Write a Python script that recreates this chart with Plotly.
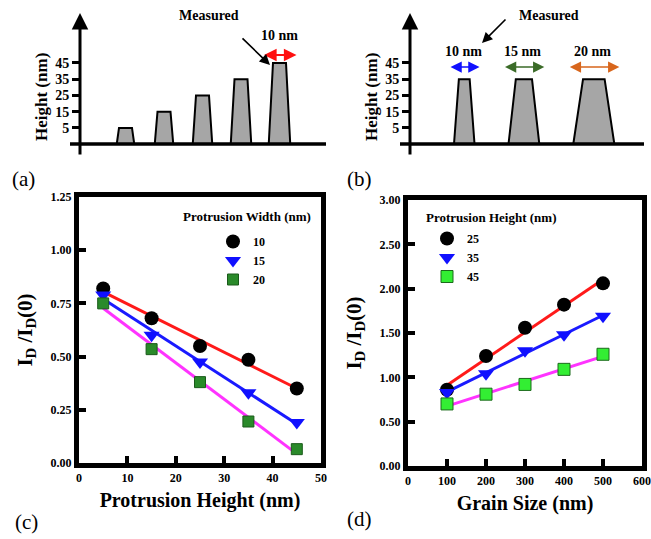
import numpy as np
import plotly.graph_objects as go

W, H = 651, 539
SERIF = "Liberation Serif, Times New Roman, serif"

# ---------------- data ----------------
# (a) schematic: protrusion heights, fixed width
heights_a = [5, 15, 25, 35, 45]
width_a_nm = 10
# (b) schematic: protrusion widths, fixed height
widths_b = [10, 15, 20]
height_b = 35
height_ticks = [5, 15, 25, 35, 45]

# (c) I_D/I_D(0) vs protrusion height
prot_height = [5, 15, 25, 35, 45]
c_names = ["10", "15", "20"]
c_w10 = [0.82, 0.68, 0.55, 0.485, 0.35]
c_w15 = [0.79, 0.60, 0.475, 0.33, 0.19]
c_w20 = [0.75, 0.535, 0.38, 0.195, 0.065]

# (d) I_D/I_D(0) vs grain size
grain_size = [100, 200, 300, 400, 500]
d_names = ["25", "35", "45"]
d_h25 = [0.86, 1.24, 1.56, 1.82, 2.06]
d_h35 = [0.83, 1.04, 1.30, 1.48, 1.69]
d_h45 = [0.70, 0.81, 0.92, 1.09, 1.26]

# ---------------- helpers ----------------
def px(p):
    return p / W

def py(p):
    return 1 - p / H

# schematic vertical scale: data value v at pixel row 136 - 1.625*v
def sy(p):
    return (136 - p) / 1.625

BASE = sy(144)

def trap(cx, top_w, bot_w, h):
    xs = [cx - bot_w / 2, cx - top_w / 2, cx + top_w / 2, cx + bot_w / 2, cx - bot_w / 2]
    ys = [BASE, h, h, BASE, BASE]
    return xs, ys

def text_ann(x, y, text, size, xref="paper", yref="paper", angle=0):
    return dict(x=x, y=y, xref=xref, yref=yref, text=text, showarrow=False,
                xanchor="center", yanchor="middle", textangle=angle,
                font=dict(family=SERIF, size=size, color="black"))

fig = go.Figure()
annotations = []

# ---------------- panel (a) ----------------
pa = 1.3  # px per nm
for i, h in enumerate(heights_a):
    cx = 125.5 + 38.5 * i
    top = width_a_nm * pa
    bot = top + 4 + 0.1 * h
    xs, ys = trap(cx, top, bot, h)
    fig.add_trace(go.Scatter(x=xs, y=ys, xaxis="x3", yaxis="y3", mode="lines",
                             fill="toself", fillcolor="#a6a6a6",
                             line=dict(color="black", width=2), showlegend=False,
                             hoverinfo="skip"))
fig.add_trace(go.Scatter(x=[70, 326], y=[BASE, BASE], xaxis="x3", yaxis="y3", mode="lines",
                         line=dict(color="black", width=3.5), showlegend=False, hoverinfo="skip"))
# y arrow
annotations.append(dict(x=80, y=sy(13), ax=80, ay=sy(156), xref="x3", yref="y3", axref="x3",
                        ayref="y3", text="", showarrow=True, arrowhead=2, arrowsize=1.1,
                        arrowwidth=3, arrowcolor="black"))
# red width arrow
cx5 = 125.5 + 38.5 * (len(heights_a) - 1)
annotations.append(dict(x=cx5 + 17, y=sy(55), ax=cx5 - 17, ay=sy(55), xref="x3", yref="y3",
                        axref="x3", ayref="y3", text="", showarrow=True, arrowhead=2,
                        startarrowhead=2, arrowside="end+start", arrowsize=1.4,
                        startarrowsize=1.4, arrowwidth=1.8, arrowcolor="#ff1010"))
annotations.append(text_ann(cx5, sy(36), "<b>%d nm</b>" % width_a_nm, 14, "x3", "y3"))
annotations.append(dict(x=270, y=sy(65), ax=241, ay=sy(37), xref="x3", yref="y3", axref="x3",
                        ayref="y3", text="", showarrow=True, arrowhead=2, arrowsize=1.3,
                        arrowwidth=1.6, arrowcolor="black"))
annotations.append(text_ann(px(209), py(16), "<b>Measured</b>", 14))
annotations.append(text_ann(px(41), py(97), "<b>Height (nm)</b>", 17, angle=-90))

# ---------------- panel (b) ----------------
pb = 1.08
arrow_cols = ["#1010ff", "#3b6b28", "#d8661c"]
xcur = 454
for i, w in enumerate(widths_b):
    top = w * pb
    bot = top * 1.9
    cx = xcur + bot / 2
    xcur += bot + 34
    xs, ys = trap(cx, top, bot, height_b)
    fig.add_trace(go.Scatter(x=xs, y=ys, xaxis="x4", yaxis="y4", mode="lines",
                             fill="toself", fillcolor="#a6a6a6",
                             line=dict(color="black", width=2), showlegend=False,
                             hoverinfo="skip"))
    L = bot + 10
    annotations.append(dict(x=cx + L / 2, y=sy(67), ax=cx - L / 2, ay=sy(67), xref="x4",
                            yref="y4", axref="x4", ayref="y4", text="", showarrow=True,
                            arrowhead=2, startarrowhead=2, arrowside="end+start",
                            arrowsize=1.5, startarrowsize=1.5, arrowwidth=1.5,
                            arrowcolor=arrow_cols[i]))
    annotations.append(text_ann(cx - 1, sy(52), "<b>%d nm</b>" % w, 14, "x4", "y4"))
fig.add_trace(go.Scatter(x=[400, 644], y=[BASE, BASE], xaxis="x4", yaxis="y4", mode="lines",
                         line=dict(color="black", width=3.5), showlegend=False, hoverinfo="skip"))
annotations.append(dict(x=410, y=sy(13), ax=410, ay=sy(156), xref="x4", yref="y4", axref="x4",
                        ayref="y4", text="", showarrow=True, arrowhead=2, arrowsize=1.1,
                        arrowwidth=3, arrowcolor="black"))
annotations.append(dict(x=482, y=sy(43), ax=507, ay=sy(18), xref="x4", yref="y4", axref="x4",
                        ayref="y4", text="", showarrow=True, arrowhead=2, arrowsize=1.3,
                        arrowwidth=1.6, arrowcolor="black"))
annotations.append(text_ann(px(549), py(16), "<b>Measured</b>", 14))
annotations.append(text_ann(px(371), py(97), "<b>Height (nm)</b>", 17, angle=-90))

# ---------------- panel (c) ----------------
line_cols = ["#ff1a1a", "#1a1aff", "#ff33ff"]
c_markers = [dict(symbol="circle", size=14, color="black"),
             dict(symbol="triangle-down", size=14, color="#1010ff"),
             dict(symbol="square", size=11, color="#2a8a2a", line=dict(color="#1a5a1a", width=1))]
for ys_, name, mk, lc in zip([c_w10, c_w15, c_w20], c_names, c_markers, line_cols):
    k, b = np.polyfit(prot_height, ys_, 1)
    xf = np.array([prot_height[0], prot_height[-1]])
    fig.add_trace(go.Scatter(x=xf, y=k * xf + b, mode="lines", line=dict(color=lc, width=3),
                             showlegend=False, xaxis="x", yaxis="y", hoverinfo="skip"))
for ys_, name, mk in zip([c_w10, c_w15, c_w20], c_names, c_markers):
    fig.add_trace(go.Scatter(x=prot_height, y=ys_, mode="markers", marker=mk, name=name,
                             xaxis="x", yaxis="y", legend="legend"))

# ---------------- panel (d) ----------------
d_markers = [dict(symbol="circle", size=14, color="black"),
             dict(symbol="triangle-down", size=14, color="#1010ff"),
             dict(symbol="square", size=12, color="#33ee33", line=dict(color="#1a6a1a", width=1))]
for ys_, name, mk, lc in zip([d_h25, d_h35, d_h45], d_names, d_markers, line_cols):
    k, b = np.polyfit(grain_size, ys_, 1)
    xf = np.array([grain_size[0], grain_size[-1]])
    fig.add_trace(go.Scatter(x=xf, y=k * xf + b, mode="lines", line=dict(color=lc, width=3),
                             showlegend=False, xaxis="x2", yaxis="y2", hoverinfo="skip"))
for ys_, name, mk in zip([d_h25, d_h35, d_h45], d_names, d_markers):
    fig.add_trace(go.Scatter(x=grain_size, y=ys_, mode="markers", marker=mk, name=name,
                             xaxis="x2", yaxis="y2", legend="legend2"))

annotations.append(text_ann(px(247), py(216), "<b>Protrusion Width (nm)</b>", 13))
annotations.append(text_ann(px(491), py(217), "<b>Protrusion Height (nm)</b>", 13))

# panel letters
for lab, xx, yy in [("(a)", 23, 179), ("(b)", 359, 179), ("(c)", 26, 522), ("(d)", 359, 519)]:
    annotations.append(text_ann(px(xx), py(yy), lab, 21))

tickfont = dict(family=SERIF, size=12, color="black", weight="bold")
frame = dict(showline=True, linewidth=5, linecolor="black", mirror=True, ticks="inside",
             ticklen=7, tickwidth=4, tickcolor="black", showgrid=False, zeroline=False,
             tickfont=tickfont, automargin=False)
title_font = dict(family=SERIF, size=20, color="black", weight="bold")
ytitle_font = dict(family=SERIF, size=21, color="black", weight="bold")

layout = dict(
    width=W, height=H, margin=dict(l=0, r=0, t=0, b=0, autoexpand=False),
    paper_bgcolor="white", plot_bgcolor="white",
    xaxis=dict(domain=[px(79), px(321)], range=[0, 50], dtick=10, anchor="y",
               title=dict(text="Protrusion Height (nm)", font=title_font, standoff=10), **frame),
    yaxis=dict(domain=[py(463), py(197)], range=[0, 1.25], dtick=0.25, tickformat=".2f",
               anchor="x",
               title=dict(text="I<sub>D</sub> /I<sub>D</sub>(0)", font=ytitle_font, standoff=14),
               **frame),
    xaxis2=dict(domain=[px(408), px(642)], range=[0, 600], dtick=100, anchor="y2",
                title=dict(text="Grain Size (nm)", font=title_font, standoff=10), **frame),
    yaxis2=dict(domain=[py(466), py(200)], range=[0, 3], dtick=0.5, tickformat=".2f",
                anchor="x2",
                title=dict(text="I<sub>D</sub> /I<sub>D</sub>(0)", font=ytitle_font, standoff=14),
                **frame),
    xaxis3=dict(domain=[px(60), px(330)], range=[60, 330], visible=False, anchor="y3"),
    yaxis3=dict(domain=[py(160), py(10)], range=[sy(160), sy(10)], anchor="free",
                position=px(80), tickvals=height_ticks, ticks="outside", ticklen=8,
                tickwidth=2.5, tickcolor="black", showline=False, showgrid=False,
                zeroline=False, automargin=False,
                tickfont=dict(family=SERIF, size=14, color="black", weight="bold")),
    xaxis4=dict(domain=[px(390), px(651)], range=[390, 651], visible=False, anchor="y4"),
    yaxis4=dict(domain=[py(160), py(10)], range=[sy(160), sy(10)], anchor="free",
                position=px(410), tickvals=height_ticks, ticks="outside", ticklen=8,
                tickwidth=2.5, tickcolor="black", showline=False, showgrid=False,
                zeroline=False, automargin=False,
                tickfont=dict(family=SERIF, size=14, color="black", weight="bold")),
    legend=dict(x=px(213), y=py(227), xanchor="left", yanchor="top", bgcolor="rgba(0,0,0,0)",
                font=dict(family=SERIF, size=12, color="black", weight="bold"),
                tracegroupgap=0, itemclick=False),
    legend2=dict(x=px(427), y=py(224), xanchor="left", yanchor="top", bgcolor="rgba(0,0,0,0)",
                 font=dict(family=SERIF, size=12, color="black", weight="bold"),
                 tracegroupgap=0, itemclick=False),
    annotations=annotations,
    showlegend=True,
)
fig.update_layout(**layout)
fig.write_html("out.html")
